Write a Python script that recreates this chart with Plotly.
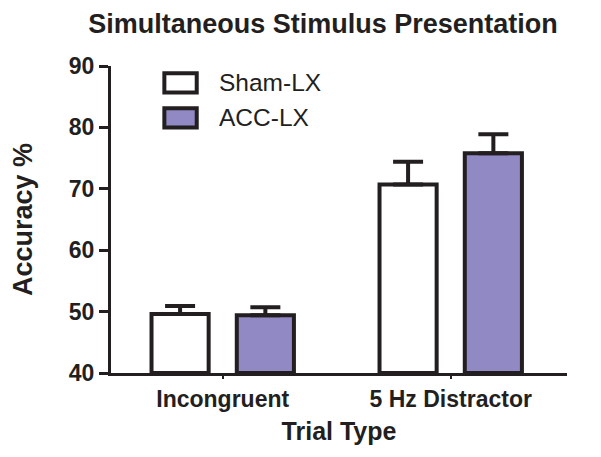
import plotly.graph_objects as go

categories = ["Incongruent", "5 Hz Distractor"]
sham_values = [49.6, 70.7]
sham_sem = [1.3, 3.7]
acc_values = [49.4, 75.8]
acc_sem = [1.3, 3.1]
y_ticks = [40, 50, 60, 70, 80, 90]
series_names = ["Sham-LX", "ACC-LX"]

INK = "#231f20"
PURPLE = "#9189c3"
FONT = "Liberation Sans, Arial, sans-serif"

fig = go.Figure()
fig.add_trace(go.Bar(
    x=categories, y=[v - 40 for v in sham_values], base=40, name=series_names[0],
    marker=dict(color="white", line=dict(color=INK, width=4)),
    error_y=dict(type="data", array=sham_sem, arrayminus=[0, 0], symmetric=False,
                 color=INK, thickness=4, width=15),
    showlegend=False,
))
fig.add_trace(go.Bar(
    x=categories, y=[v - 40 for v in acc_values], base=40, name=series_names[1],
    marker=dict(color=PURPLE, line=dict(color=INK, width=4)),
    error_y=dict(type="data", array=acc_sem, arrayminus=[0, 0], symmetric=False,
                 color=INK, thickness=4, width=15),
    showlegend=False,
))

# custom legend
legend_items = [(series_names[0], "white", 0.945), (series_names[1], PURPLE, 0.831)]
for name, col, yc in legend_items:
    fig.add_shape(type="rect", xref="paper", yref="paper",
                  x0=0.117, x1=0.188, y0=yc - 0.031, y1=yc + 0.031,
                  fillcolor=col, line=dict(color=INK, width=4))
    fig.add_annotation(xref="paper", yref="paper", x=0.232, y=yc, text=name,
                       showarrow=False, xanchor="left", yanchor="middle",
                       font=dict(family=FONT, size=24.5, color=INK))

fig.update_layout(
    width=601, height=457,
    margin=dict(l=97, r=42, t=58, b=92),
    paper_bgcolor="white", plot_bgcolor="white",
    barmode="group", bargap=0.252, bargroupgap=0.33,
    title=dict(text="<b>Simultaneous Stimulus Presentation</b>", x=0.524, xanchor="center",
               y=0.966, yanchor="middle", font=dict(family=FONT, size=27, color=INK)),
    font=dict(family=FONT, color=INK),
)
fig.update_xaxes(
    range=[-0.49, 1.51], showline=True, linecolor=INK, linewidth=3,
    ticks="outside", ticklen=3, tickwidth=2, tickcolor=INK,
    tickfont=dict(family=FONT, size=23, color=INK, weight="bold"),
    title=dict(text="<b>Trial Type</b>", font=dict(family=FONT, size=25, color=INK), standoff=12),
    showgrid=False, zeroline=False,
)
fig.update_yaxes(
    range=[40, 90], tickvals=y_ticks, showline=True, linecolor=INK, linewidth=3,
    ticks="outside", ticklen=9, tickwidth=3, tickcolor=INK,
    tickfont=dict(family=FONT, size=23, color=INK, weight="bold"),
    title=dict(text="<b>Accuracy %</b>", font=dict(family=FONT, size=27, color=INK), standoff=30),
    showgrid=False, zeroline=False,
)

fig.write_html("out.html")
